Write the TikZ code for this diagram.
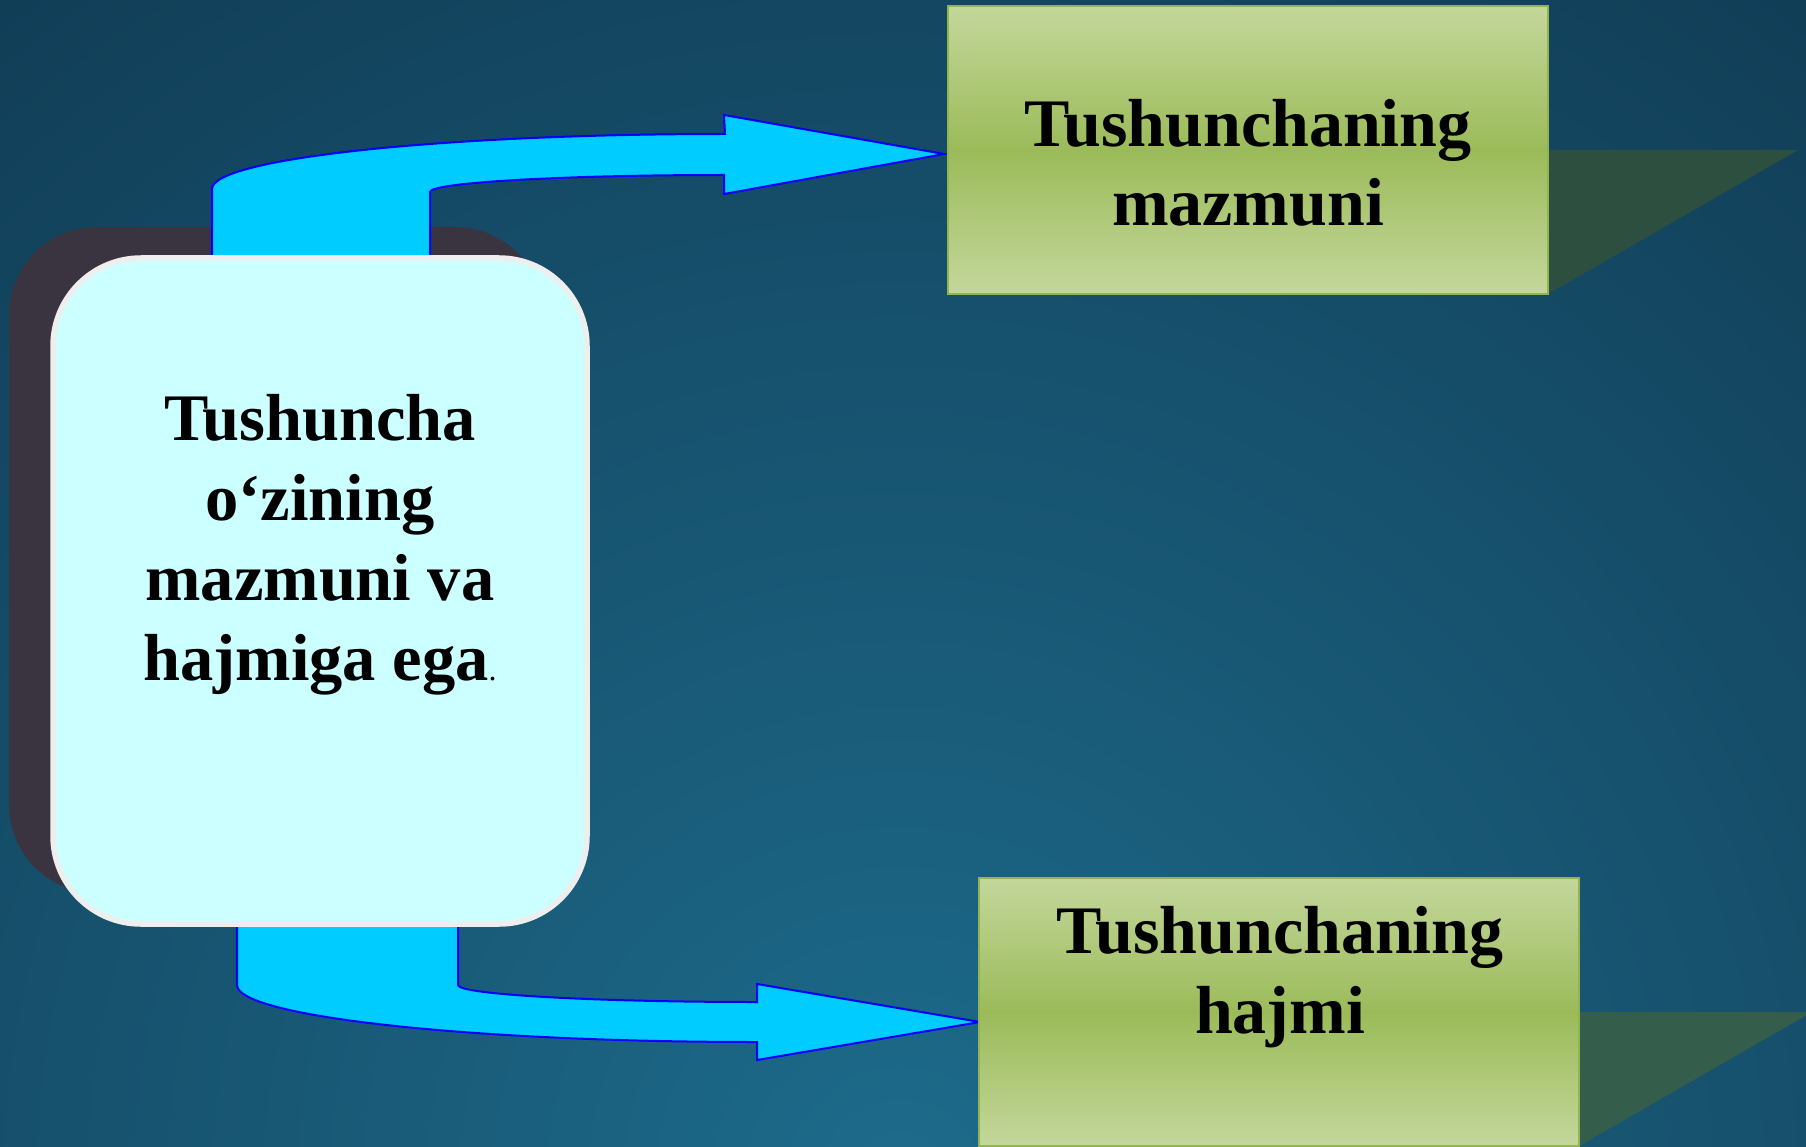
\documentclass[tikz,border=0pt]{standalone}
\usepackage{fontspec}
\setmainfont{Liberation Serif}
\definecolor{bgin}{HTML}{1D6B8B}
\definecolor{bgout}{HTML}{113D56}
\definecolor{boxfill}{HTML}{CCFFFF}
\definecolor{boxline}{HTML}{EEEEEE}
\definecolor{boxshadow}{HTML}{3A3340}
\definecolor{greenlight}{HTML}{C4D79C}
\definecolor{greendark}{HTML}{9BBB59}
\definecolor{greenline}{HTML}{93B451}
\definecolor{shadowtop}{HTML}{2D4F40}
\definecolor{shadowbot}{HTML}{355D4C}
\definecolor{arrowfill}{HTML}{00CCFF}
\definecolor{arrowline}{HTML}{0000FF}
\begin{document}
\begin{tikzpicture}[x=1pt,y=-1pt,
    mainbox/.style={draw=boxline, line width=5.5pt, fill=boxfill, rounded corners=88pt,
        minimum width=534pt, minimum height=666pt, inner sep=0pt},
    greenbox/.style={draw=greenline, line width=2.5pt, top color=greenlight,
        bottom color=greenlight, middle color=greendark, minimum width=600pt, inner sep=0pt},
    bentarrow/.style={fill=arrowfill, draw=arrowline, line width=2pt, line join=miter},
    boxtext/.style={font=\fontsize{66.5}{80}\selectfont\bfseries, align=center, inner sep=0pt}]
    \useasboundingbox (0,0) rectangle (1806,1147);
    \clip (0,0) rectangle (1806,1147);
    % background
    \shade[inner color=bgin, outer color=bgout] (900,1180) circle (1500pt);
    % shadows
    \fill[boxshadow, rounded corners=88pt] (9,227) rectangle (543,893);
    \fill[shadowtop] (948,294) -- (1548,294) -- (1798,150) -- (1198,150) -- cycle;
    \fill[shadowbot] (979,1146) -- (1579,1146) -- (1812,1012) -- (1212,1012) -- cycle;
    % arrows
    \draw[bentarrow] (212,258) -- (212,189) .. controls (212,158.6) and (442,134) .. (725,134)
        -- (724,115) -- (944,154) -- (724,194) -- (724,175)
        .. controls (562,175) and (430,182.6) .. (430,192) -- (430,258) -- cycle;
    \draw[bentarrow] (237,922) -- (237,985) .. controls (237,1016.5) and (470,1042) .. (757,1042)
        -- (757,1060) -- (980,1022) -- (757,984) -- (757,1002)
        .. controls (592,1002) and (458,994.4) .. (458,985) -- (458,922) -- cycle;
    % boxes
    \node[mainbox] (concept) at (320,591) {};
    \node[greenbox, minimum height=288pt] (content) at (1248,150) {};
    \node[greenbox, minimum height=268pt] (extent) at (1279,1012) {};
    % texts
    \node[boxtext] (conceptlabel) at (320,545)
        {Tushuncha\\o‘zining\\mazmuni va\\hajmiga ega{\fontsize{32}{32}\selectfont\mdseries.}};
    \node[boxtext, font=\fontsize{68}{79}\selectfont\bfseries] (contentlabel) at (1248,162.5)
        {Tushunchaning\\mazmuni};
    \node[boxtext, font=\fontsize{68}{80}\selectfont\bfseries] (extentlabel) at (1280,977.5)
        {Tushunchaning\\hajmi};
\end{tikzpicture}
\end{document}
